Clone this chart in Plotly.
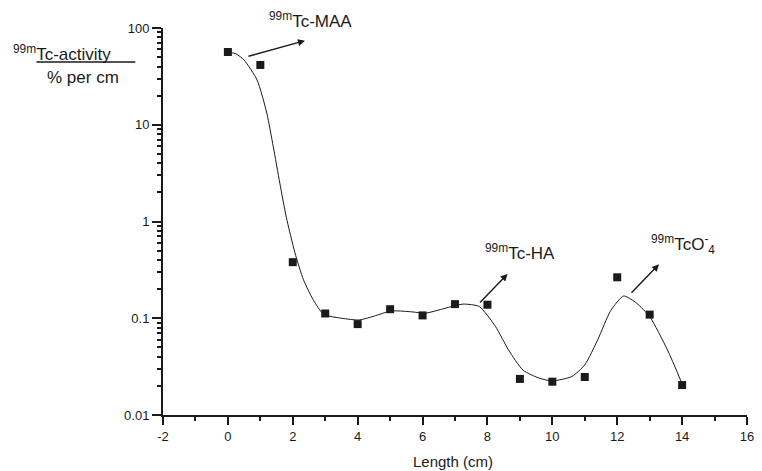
import plotly.graph_objects as go

# measured points
length_cm = [0, 1, 2, 3, 4, 5, 6, 7, 8, 9, 10, 11, 12, 13, 14]
activity = [56.5, 41.5, 0.38, 0.112, 0.087, 0.124, 0.107, 0.140, 0.138,
            0.0236, 0.0221, 0.0247, 0.265, 0.109, 0.0204]

# fitted curve
curve_x = [0, 0.25, 0.5, 0.9, 1.2, 1.4, 1.6, 1.8, 2.07, 2.33, 2.63, 2.95, 3.5, 4.05,
           4.5, 5.04, 5.6, 6.1, 6.55, 7.25, 7.75, 8.25, 8.65, 9.1, 9.6, 10.0,
           10.6, 11.0, 11.4, 11.8, 12.2, 12.6, 13.0, 13.55, 14.0]
curve_y = [56.5, 54, 46.7, 29, 13.2, 5.9, 2.5, 1.11, 0.47, 0.25, 0.155, 0.11, 0.100,
           0.096, 0.105, 0.119, 0.117, 0.113, 0.123, 0.140, 0.132, 0.082, 0.047,
           0.029, 0.024, 0.0225, 0.025, 0.033, 0.06, 0.12, 0.17, 0.143, 0.104,
           0.047, 0.021]

y_tickvals = [0.01, 0.1, 1, 10, 100]
y_ticktext = ["0.01", "0.1", "1", "10", "100"]
x_tickvals = [-2, 0, 2, 4, 6, 8, 10, 12, 14, 16]
x_ticktext = ["-2", "0", "2", "4", "6", "8", "10", "12", "14", "16"]
x_minor = [-1, 1, 3, 5, 7, 9, 11, 13, 15]
y_minor = [m * d for d in (0.01, 0.1, 1, 10) for m in range(2, 10)]

FONT = "Liberation Sans, Arial, sans-serif"
INK = "#1a1a1a"

fig = go.Figure()
fig.add_trace(go.Scatter(x=curve_x, y=curve_y, mode="lines",
                         line=dict(color=INK, width=1, shape="spline", smoothing=0.6),
                         hoverinfo="skip", showlegend=False))
fig.add_trace(go.Scatter(x=length_cm, y=activity, mode="markers",
                         marker=dict(symbol="square", size=8, color=INK),
                         showlegend=False))

fig.update_layout(
    width=762, height=471,
    margin=dict(l=163, r=8, t=28, b=56),
    paper_bgcolor="white", plot_bgcolor="white",
    font=dict(family=FONT, color=INK, size=13),
    showlegend=False,
)
fig.update_xaxes(range=[-2, 16], tickmode="array", tickvals=x_tickvals, ticktext=x_ticktext,
                 showgrid=False, zeroline=False, showline=True, linecolor=INK, linewidth=2,
                 ticks="outside", ticklen=8, tickwidth=2, tickcolor=INK,
                 minor=dict(ticks="outside", ticklen=4, tickwidth=2, tickcolor=INK,
                            tickmode="array", tickvals=x_minor, showgrid=False),
                 tickfont=dict(size=13))
fig.update_yaxes(type="log", range=[-2, 2], tickmode="array", tickvals=y_tickvals,
                 ticktext=y_ticktext,
                 showgrid=False, zeroline=False, showline=True, linecolor=INK, linewidth=2,
                 ticks="outside", ticklen=9, tickwidth=2, tickcolor=INK,
                 minor=dict(ticks="outside", ticklen=4, tickwidth=1.5, tickcolor=INK,
                            tickmode="array", tickvals=y_minor, showgrid=False),
                 tickfont=dict(size=13))

ann = [
    dict(text="<sup>99m</sup>Tc-activity", x=-0.2606, y=0.935, xanchor="left", yanchor="middle",
         font=dict(size=17)),
    dict(text="% per cm", x=-0.137, y=0.873, xanchor="center", yanchor="middle",
         font=dict(size=17)),
    dict(text="<sup>99m</sup>Tc-MAA", x=0.1777, y=1.02, xanchor="left", yanchor="middle",
         font=dict(size=17)),
    dict(text="<sup>99m</sup>Tc-HA", x=0.548, y=0.42, xanchor="left", yanchor="middle",
         font=dict(size=17)),
    dict(text="<sup>99m</sup>TcO<sup>-</sup><sub>4</sub>", x=0.8325, y=0.44, xanchor="left",
         yanchor="middle", font=dict(size=17)),
    dict(text="Length (cm)", x=0.4958, y=-0.1214, xanchor="center", yanchor="middle",
         font=dict(size=15)),
]
for a in ann:
    fig.add_annotation(xref="paper", yref="paper", showarrow=False, **a)

arrows = [
    (0.2431, 0.9672, -58, 16),
    (0.590, 0.3643, -29, 30),
    (0.8494, 0.3894, -29, 30),
]
for hx, hy, ax, ay in arrows:
    fig.add_annotation(xref="paper", yref="paper", x=hx, y=hy, ax=ax, ay=ay, text="",
                       showarrow=True, arrowhead=2, arrowsize=1, arrowwidth=1.4,
                       arrowcolor=INK, standoff=0, startstandoff=0)

# fraction bar under "Tc-activity"
fig.add_shape(type="line", xref="paper", yref="paper", x0=-0.2166, x1=-0.0474,
              y0=0.912, y1=0.912, line=dict(color=INK, width=1.5))

fig.write_html("out.html", config={"displayModeBar": False},
               post_script="document.body.style.margin='0';document.body.style.overflow='hidden';")
